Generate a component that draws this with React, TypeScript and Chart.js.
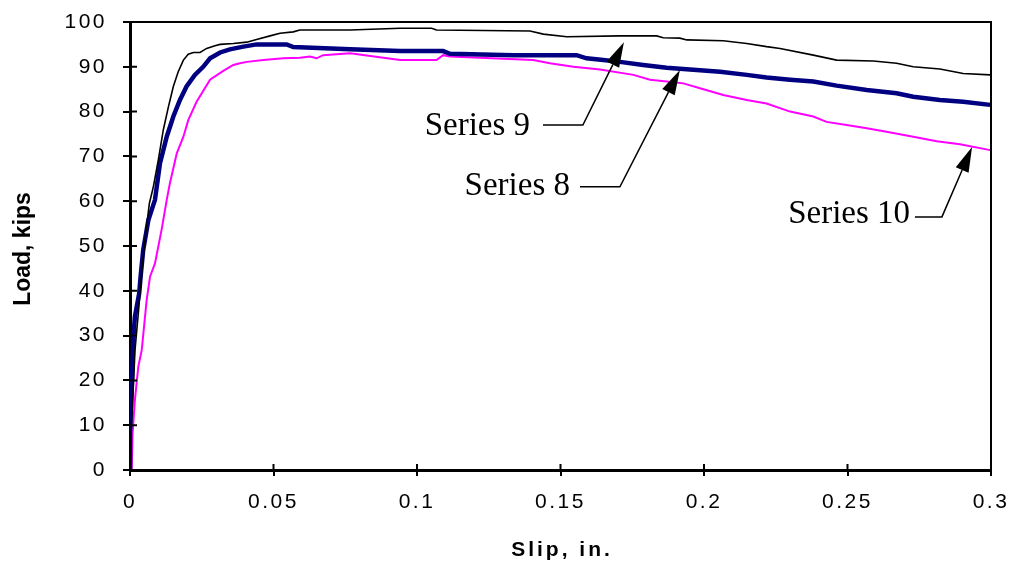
import React, { useEffect, useRef } from "react";
import { Chart, registerables } from "chart.js";

Chart.register(...registerables);

// ---- Data (slip in inches, load in kips) ----
const series9X = [0, 0.00035, 0.00116, 0.00174, 0.0029, 0.00406, 0.00523, 0.00674, 0.00813, 0.00987, 0.0116, 0.0134, 0.0151, 0.0168, 0.0186, 0.0203, 0.0221, 0.0244, 0.0267, 0.0296, 0.0314, 0.036, 0.0407, 0.0441, 0.0488, 0.0523, 0.0569, 0.0592, 0.0767, 0.0941, 0.1051, 0.1068, 0.1394, 0.144, 0.1522, 0.1707, 0.1835, 0.1858, 0.1916, 0.194, 0.2067, 0.2149, 0.2218, 0.2265, 0.2381, 0.2462, 0.259, 0.2671, 0.2729, 0.2822, 0.2903, 0.2997];
const series9Y = [0, 8.2, 18.6, 26.8, 35.0, 43.9, 51.3, 59.5, 63.2, 69.2, 75.9, 81.1, 85.6, 88.9, 91.5, 92.8, 93.2, 93.2, 94.1, 94.7, 95.0, 95.2, 95.5, 96.1, 96.9, 97.5, 97.8, 98.2, 98.2, 98.6, 98.6, 98.2, 98.0, 97.3, 96.7, 96.9, 96.9, 96.5, 96.4, 96.0, 95.8, 95.2, 94.5, 94.1, 92.6, 91.5, 91.3, 90.8, 90.0, 89.5, 88.5, 88.2];

const series8X = [0, 0, 0.0006, 0.0012, 0.0017, 0.0032, 0.0037, 0.0046, 0.0064, 0.0087, 0.01045, 0.0128, 0.0151, 0.0174, 0.0197, 0.0226, 0.0255, 0.0279, 0.0314, 0.0348, 0.0395, 0.0441, 0.0546, 0.0569, 0.0767, 0.0941, 0.1091, 0.1115, 0.1336, 0.1405, 0.1556, 0.1591, 0.1649, 0.1707, 0.1788, 0.187, 0.1951, 0.2056, 0.2149, 0.2218, 0.23, 0.2381, 0.2462, 0.2567, 0.2671, 0.2729, 0.2822, 0.2903, 0.2997];
const series8Y = [0, 8.2, 18.6, 29.8, 34.2, 39.4, 43.2, 49.1, 55.8, 60.3, 68.5, 74.4, 78.9, 82.6, 85.6, 88.2, 90.0, 91.9, 93.2, 93.9, 94.5, 95.0, 95.0, 94.4, 93.9, 93.5, 93.5, 92.9, 92.6, 92.6, 92.6, 91.9, 91.5, 91.1, 90.4, 89.8, 89.4, 88.9, 88.2, 87.6, 87.1, 86.7, 85.8, 84.8, 84.1, 83.3, 82.6, 82.2, 81.5];

const series10X = [0.0006, 0.0009, 0.0017, 0.0029, 0.0041, 0.0058, 0.007, 0.0087, 0.011, 0.0128, 0.0139, 0.0163, 0.0186, 0.0203, 0.0232, 0.0279, 0.0325, 0.036, 0.0383, 0.0407, 0.0465, 0.0534, 0.0592, 0.0627, 0.065, 0.0673, 0.0767, 0.0941, 0.1068, 0.1091, 0.1115, 0.1405, 0.1463, 0.1545, 0.1638, 0.1754, 0.1812, 0.187, 0.1928, 0.1986, 0.2067, 0.2149, 0.2218, 0.23, 0.2381, 0.2427, 0.2497, 0.2567, 0.2636, 0.2729, 0.2811, 0.2892, 0.2997];
const series10Y = [0, 8.2, 15.6, 23.1, 26.8, 37.9, 43.2, 46.1, 53.6, 60.3, 64.0, 70.7, 74.4, 78.1, 82.2, 87.1, 89.1, 90.4, 90.8, 91.1, 91.5, 91.9, 92.0, 92.3, 91.9, 92.6, 93.0, 91.5, 91.5, 92.6, 92.3, 91.5, 90.8, 90.0, 89.4, 88.2, 87.1, 86.7, 86.3, 85.2, 83.7, 82.6, 81.8, 80.0, 78.9, 77.7, 77.0, 76.3, 75.5, 74.4, 73.4, 72.7, 71.4];

const xTicks = [0, 0.05, 0.1, 0.15, 0.2, 0.25, 0.3];
const xTickLabels = ["0", "0.05", "0.1", "0.15", "0.2", "0.25", "0.3"];
const yTicks = [0, 10, 20, 30, 40, 50, 60, 70, 80, 90, 100];
const yTickLabels = ["0", "10", "20", "30", "40", "50", "60", "70", "80", "90", "100"];

const xTitle = "Slip, in.";
const yTitle = "Load, kips";

// Annotations: label, baseline/text anchor (data), elbow (data), arrow tip (data)
const annLabels = ["Series 9", "Series 8", "Series 10"];
const annTextX = [0.1394, 0.1533, 0.2718];
const annTextY = [74.8, 61.4, 55.1];
const annLineStartX = [0.1439, 0.1568, 0.2735];
const annLineY = [77.0, 63.2, 56.5];
const annElbowX = [0.1578, 0.1707, 0.2829];
const annTipX = [0.1721, 0.1916, 0.2934];
const annTipY = [95.5, 89.3, 72.1];

const toPoints = (xs: number[], ys: number[]) => xs.map((x, i) => ({ x, y: ys[i] }));

const decorPlugin = {
  id: "decor",
  beforeDraw(chart: any) {
    (chart.ctx as any).letterSpacing = "2.5px";
  },
  afterDraw(chart: any) {
    const ctx = chart.ctx as any;
    const { left, right, top, bottom } = chart.chartArea;
    const xs = chart.scales.x;
    const ys = chart.scales.y;
    ctx.save();
    ctx.letterSpacing = "0px";
    // top and right border
    ctx.strokeStyle = "#000";
    ctx.lineWidth = 2;
    ctx.beginPath();
    ctx.moveTo(left, top);
    ctx.lineTo(right, top);
    ctx.lineTo(right, bottom);
    ctx.stroke();
    // inner halves of tick marks
    ctx.lineWidth = 2;
    ctx.beginPath();
    xTicks.forEach((v) => {
      const px = xs.getPixelForValue(v);
      ctx.moveTo(px, bottom);
      ctx.lineTo(px, bottom - 6);
    });
    yTicks.forEach((v) => {
      const py = ys.getPixelForValue(v);
      ctx.moveTo(left, py);
      ctx.lineTo(left + 7, py);
    });
    ctx.stroke();

    // axis titles
    ctx.fillStyle = "#000";
    ctx.font = "bold 21px 'Liberation Sans', Arial, sans-serif";
    ctx.letterSpacing = "3px";
    ctx.textAlign = "center";
    ctx.textBaseline = "alphabetic";
    ctx.fillText(xTitle, (left + right) / 2 + 1.5, 556);
    ctx.save();
    ctx.letterSpacing = "0px";
    ctx.font = "bold 23px 'Liberation Sans', Arial, sans-serif";
    ctx.translate(30, (top + bottom) / 2 + 3);
    ctx.rotate(-Math.PI / 2);
    ctx.fillText(yTitle, 0, 0);
    ctx.restore();

    // annotations
    ctx.letterSpacing = "0px";
    ctx.font = "33px 'Liberation Serif', 'Times New Roman', serif";
    ctx.textAlign = "right";
    ctx.textBaseline = "alphabetic";
    annLabels.forEach((label, i) => {
      const tx = xs.getPixelForValue(annTextX[i]);
      const ty = ys.getPixelForValue(annTextY[i]);
      ctx.fillText(label, tx, ty);
      const sx = xs.getPixelForValue(annLineStartX[i]);
      const ly = ys.getPixelForValue(annLineY[i]);
      const ex = xs.getPixelForValue(annElbowX[i]);
      const tipX = xs.getPixelForValue(annTipX[i]);
      const tipY = ys.getPixelForValue(annTipY[i]);
      ctx.lineWidth = 1.5;
      ctx.beginPath();
      ctx.moveTo(sx, ly);
      ctx.lineTo(ex, ly);
      const ang = Math.atan2(tipY - ly, tipX - ex);
      const len = 25;
      const hw = 7;
      const bx = tipX - len * Math.cos(ang);
      const by = tipY - len * Math.sin(ang);
      ctx.lineTo(bx, by);
      ctx.stroke();
      ctx.beginPath();
      ctx.moveTo(tipX, tipY);
      ctx.lineTo(bx + hw * Math.sin(ang), by - hw * Math.cos(ang));
      ctx.lineTo(bx - hw * Math.sin(ang), by + hw * Math.cos(ang));
      ctx.closePath();
      ctx.fill();
    });
    ctx.restore();
  },
};

export default function App() {
  const ref = useRef<HTMLCanvasElement | null>(null);
  useEffect(() => {
    if (!ref.current) return;
    const tickFont = { family: "'Liberation Sans', Arial, sans-serif", size: 21 };
    const chart = new Chart(ref.current, {
      type: "line",
      data: {
        datasets: [
          {
            label: "Series 9",
            data: toPoints(series9X, series9Y),
            borderColor: "#000000",
            borderWidth: 1.6,
            pointRadius: 0,
            tension: 0,
            order: 1,
          },
          {
            label: "Series 8",
            data: toPoints(series8X, series8Y),
            borderColor: "#000080",
            borderWidth: 4.5,
            pointRadius: 0,
            tension: 0,
            order: 2,
          },
          {
            label: "Series 10",
            data: toPoints(series10X, series10Y),
            borderColor: "#FF00FF",
            borderWidth: 2,
            pointRadius: 0,
            tension: 0,
            order: 3,
          },
        ],
      },
      options: {
        responsive: false,
        animation: false,
        events: [],
        layout: { padding: { top: 22, right: 20, left: 0, bottom: 0 } },
        plugins: { legend: { display: false }, tooltip: { enabled: false } },
        scales: {
          x: {
            type: "linear",
            min: 0,
            max: 0.3,
            afterBuildTicks: (s: any) => {
              s.ticks = xTicks.map((v) => ({ value: v }));
            },
            afterFit: (s: any) => {
              s.height = 91;
              s.paddingLeft = 0;
              s.paddingRight = 0;
            },
            ticks: {
              callback: (_v: any, i: number) => xTickLabels[i],
              color: "#000",
              font: tickFont,
              padding: 14,
              maxRotation: 0,
              autoSkip: false,
            },
            grid: {
              display: true,
              drawOnChartArea: false,
              drawTicks: true,
              tickLength: 6,
              color: "#000",
              lineWidth: 2,
            },
            border: { display: true, color: "#000", width: 3 },
          },
          y: {
            type: "linear",
            min: 0,
            max: 100,
            afterBuildTicks: (s: any) => {
              s.ticks = yTicks.map((v) => ({ value: v }));
            },
            afterFit: (s: any) => {
              s.width = 130;
              s.paddingTop = 0;
              s.paddingBottom = 0;
            },
            ticks: {
              callback: (_v: any, i: number) => yTickLabels[i],
              color: "#000",
              font: tickFont,
              padding: 16,
              autoSkip: false,
            },
            grid: {
              display: true,
              drawOnChartArea: false,
              drawTicks: true,
              tickLength: 7,
              color: "#000",
              lineWidth: 2,
            },
            border: { display: true, color: "#000", width: 3 },
          },
        },
      },
      plugins: [decorPlugin],
    });
    return () => chart.destroy();
  }, []);
  return (
    <div style={{ position: "absolute", left: 0, top: 0, width: 1011, height: 561, background: "#fff" }}>
      <canvas ref={ref} width={1011} height={561} />
    </div>
  );
}
